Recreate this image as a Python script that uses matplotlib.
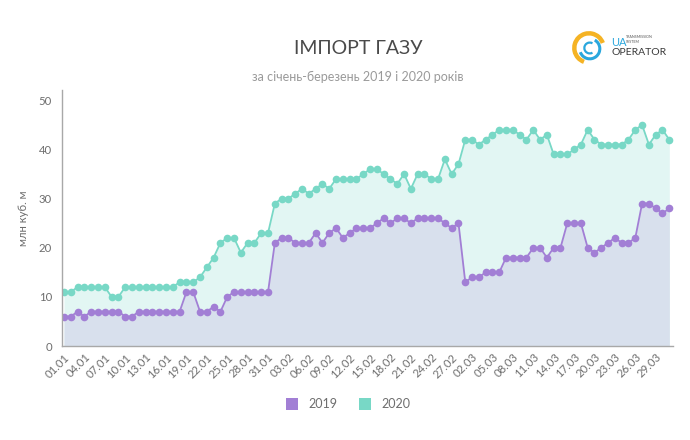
import matplotlib
matplotlib.use("Agg")
import matplotlib.pyplot as plt
from matplotlib.patches import Arc
from matplotlib.lines import Line2D
import datetime as dt

# daily values, 01.01 - 31.03 (mln m3)
imp_2019 = [6, 6, 7, 6, 7, 7, 7, 7, 7, 6, 6, 7, 7, 7, 7, 7, 7, 7, 11, 11, 7, 7, 8, 7, 10, 11, 11, 11, 11, 11, 11,
            21, 22, 22, 21, 21, 21, 23, 21, 23, 24, 22, 23, 24, 24, 24, 25, 26, 25, 26, 26, 25, 26, 26, 26, 26, 25, 24, 25,
            13, 14, 14, 15, 15, 15, 18, 18, 18, 18, 20, 20, 18, 20, 20, 25, 25, 25, 20, 19, 20, 21, 22, 21, 21, 22, 29, 29, 28, 27, 28]
imp_2020 = [11, 11, 12, 12, 12, 12, 12, 10, 10, 12, 12, 12, 12, 12, 12, 12, 12, 13, 13, 13, 14, 16, 18, 21, 22, 22, 19, 21, 21, 23, 23,
            29, 30, 30, 31, 32, 31, 32, 33, 32, 34, 34, 34, 34, 35, 36, 36, 35, 34, 33, 35, 32, 35, 35, 34, 34, 38, 35, 37,
            42, 42, 41, 42, 43, 44, 44, 44, 43, 42, 44, 42, 43, 39, 39, 39, 40, 41, 44, 42, 41, 41, 41, 41, 42, 44, 45, 41, 43, 44, 42]
start = dt.date(2019, 1, 1)
dates = [(start + dt.timedelta(days=i)).strftime("%d.%m") for i in range(len(imp_2019))]
yticks = [0, 10, 20, 30, 40, 50]

c19 = "#a27fd5"
c20 = "#78d8c6"
fill19 = "#d8e0ed"
fill20 = "#e2f6f3"
grey = "#6e6e6e"

plt.rcParams['font.family'] = ['Lato', 'DejaVu Sans']

fig = plt.figure(figsize=(6.9, 4.4), dpi=100)
ax = fig.add_axes([61.7 / 690, 94 / 440, 611 / 690, 255.5 / 440])

x = list(range(len(dates)))
ax.fill_between(x, imp_2020, color=fill20, lw=0)
ax.fill_between(x, imp_2019, color=fill19, lw=0)
ax.plot(x, imp_2020, color=c20, lw=1.3, marker="o", ms=5.5, mew=0)
ax.plot(x, imp_2019, color=c19, lw=1.3, marker="o", ms=5.5, mew=0)

ax.set_xlim(-0.34, 89.5)
ax.set_ylim(0, 52)
ax.set_yticks(yticks)
ax.set_xticks(x[::3])
ax.set_xticklabels(dates[::3], rotation=45, ha="right", rotation_mode="anchor")
ax.tick_params(axis="both", length=0, labelsize=8.2, colors=grey, pad=7)
ax.tick_params(axis="x", pad=4)
for s in ["top", "right"]:
    ax.spines[s].set_visible(False)
for s in ["left", "bottom"]:
    ax.spines[s].set_color("#a8a8a8")
    ax.spines[s].set_linewidth(1.0)
ax.set_ylabel("млн куб. м", fontsize=8.2, color=grey, labelpad=7)

fig.text(358 / 690, 1 - 49 / 440, "ІМПОРТ ГАЗУ", ha="center", va="center", fontsize=14, color="#4a4a4a")
fig.text(358 / 690, 1 - 77 / 440, "за січень-березень 2019 і 2020 років", ha="center", va="center",
         fontsize=9, color="#9a9a9a")

handles = [Line2D([], [], ls="", marker="s", ms=9, color=c19, mew=0),
           Line2D([], [], ls="", marker="s", ms=9, color=c20, mew=0)]
fig.legend(handles, ["2019", "2020"], loc="center", bbox_to_anchor=(345 / 690, 1 - 404 / 440), ncol=2,
           frameon=False, fontsize=9, labelcolor=grey, handletextpad=0.3, columnspacing=1.2)

# logo
lax = fig.add_axes([572 / 690, 1 - 66 / 440, 34 / 690, 36 / 440])
lax.set_xlim(-1.1, 1.1)
lax.set_ylim(-1.15, 1.15)
lax.set_aspect("equal")
lax.axis("off")
lax.add_patch(Arc((0, 0), 1.9, 1.9, theta1=20, theta2=250, color="#f5b324", lw=3.2))
lax.add_patch(Arc((0.05, -0.05), 1.3, 1.3, theta1=200, theta2=420, color="#2aa7dd", lw=2.2))
lax.add_patch(Arc((0.05, 0.0), 0.7, 0.7, theta1=60, theta2=300, color="#2aa7dd", lw=1.6))
fig.text(611 / 690, 1 - 43 / 440, "UA", fontsize=8, color="#2aa7dd", va="center", ha="left")
fig.text(626 / 690, 1 - 37.5 / 440, "TRANSMISSION", fontsize=2.6, color="#555555", va="center", ha="left")
fig.text(626 / 690, 1 - 42 / 440, "SYSTEM", fontsize=2.6, color="#555555", va="center", ha="left")
fig.text(611 / 690, 1 - 52.5 / 440, "OPERATOR", fontsize=7.5, color="#3a3a3a", va="center", ha="left")

fig.savefig("out.png", dpi=100)
